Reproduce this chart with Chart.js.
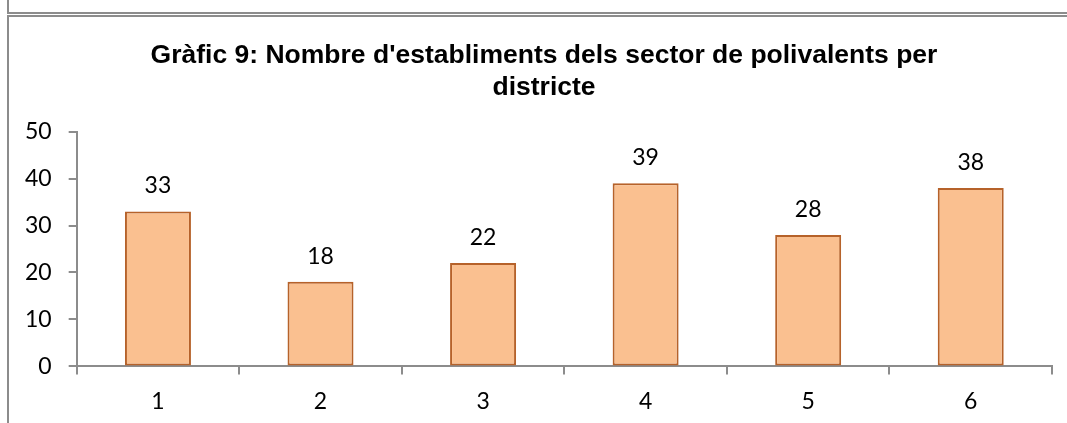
<!DOCTYPE html>
<html>
<head>
<meta charset="utf-8">
<script src="https://cdn.jsdelivr.net/npm/chart.js@4/dist/chart.umd.min.js"></script>
<style>
  html, body { margin:0; padding:0; background:#fff; overflow:hidden; width:1067px; height:423px; }
  .box-top { position:absolute; left:7px; top:-10px; width:1100px; height:20px; border:2px solid #8c8c8c; }
  .box { position:absolute; left:7px; top:15px; width:1100px; height:500px; border:2px solid #8c8c8c; }
  .wrap { position:absolute; left:0; top:0; width:1116px; height:436px; }
</style>
</head>
<body>
<div class="box-top"></div>
<div class="box"></div>
<div class="wrap"><canvas id="c"></canvas></div>
<script>
const districts = ['1','2','3','4','5','6'];
const counts = [33, 18, 22, 39, 28, 38];
const titleLines = ["Gràfic 9: Nombre d'establiments dels sector de polivalents per", "districte"];

const axisGray = '#8c8c8c';
const tickFont = { family: 'Lato', size: 23 };

// values written above each bar
const valueLabels = {
  id: 'valueLabels',
  afterDatasetsDraw(chart) {
    const ctx = chart.ctx;
    const meta = chart.getDatasetMeta(0);
    ctx.save();
    ctx.font = '23px Lato';
    ctx.fillStyle = '#000';
    ctx.textAlign = 'center';
    ctx.textBaseline = 'alphabetic';
    meta.data.forEach((bar, i) => {
      ctx.fillText(String(counts[i]), bar.x, bar.y - 18);
    });
    ctx.restore();
  }
};

new Chart(document.getElementById('c'), {
  type: 'bar',
  data: {
    labels: districts,
    datasets: [{
      data: counts,
      backgroundColor: '#FAC090',
      borderColor: '#B6622A',
      borderWidth: 2,
      borderSkipped: false,
      barPercentage: 1,
      categoryPercentage: 0.406
    }]
  },
  options: {
    responsive: true, maintainAspectRatio: false, animation: false,
    layout: { padding: { left: 8, right: 36, top: 0, bottom: 8 } },
    plugins: {
      legend: { display: false },
      tooltip: { enabled: false },
      title: {
        display: true, text: titleLines, color: '#000',
        font: { family: 'Liberation Sans', size: 26.5, weight: 'bold', lineHeight: 1.2 },
        padding: { top: 40, bottom: 28 }
      }
    },
    scales: {
      x: {
        grid: { drawOnChartArea: false, drawTicks: true, tickLength: 8, color: axisGray, lineWidth: 2, offset: true },
        border: { color: axisGray, width: 2 },
        ticks: { font: tickFont, color: '#000', padding: 13 }
      },
      y: {
        min: 0, max: 50,
        grid: { drawOnChartArea: false, drawTicks: true, tickLength: 8, color: axisGray, lineWidth: 2 },
        border: { color: axisGray, width: 2 },
        ticks: { stepSize: 10, font: tickFont, color: '#000', padding: 17 }
      },
      // empty spacer on the right so the title sits where the original one is
      spacer: {
        position: 'right', display: true,
        grid: { display: false }, border: { display: false }, ticks: { display: false },
        afterFit: s => { s.width = 28; }
      }
    }
  },
  plugins: [valueLabels]
});
</script>
</body>
</html>
